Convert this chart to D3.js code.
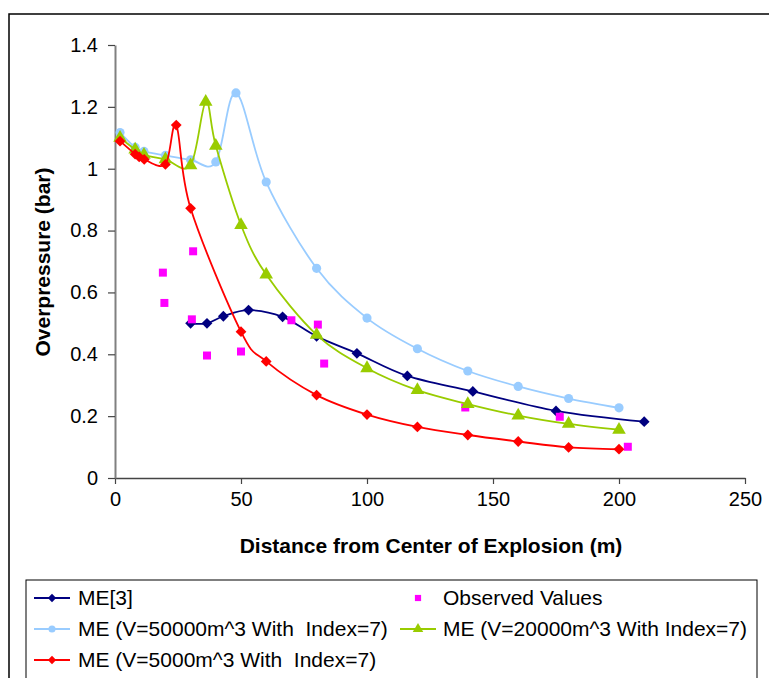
<!DOCTYPE html>
<html>
<head>
<meta charset="utf-8">
<script src="https://cdn.jsdelivr.net/npm/d3@7"></script>
<style>
  html, body { margin: 0; padding: 0; background: #fff; }
  svg { display: block; font-family: "Liberation Sans", Arial, sans-serif; }
  .leg { white-space: pre; }
</style>
</head>
<body>
<svg id="chart" width="769" height="678"></svg>
<script>
// ---- Data ----
const xTicks = [0, 50, 100, 150, 200, 250];
const yTicks = [0, 0.2, 0.4, 0.6, 0.8, 1, 1.2, 1.4];
const yTickLabels = ["0", "0.2", "0.4", "0.6", "0.8", "1", "1.2", "1.4"];

const me3X = [30, 36.5, 43, 53, 66.5, 80, 96, 116, 142, 175, 210];
const me3Y = [0.50, 0.50, 0.523, 0.543, 0.521, 0.458, 0.403, 0.330, 0.280, 0.217, 0.182];

const obsX = [19, 19.6, 30.5, 31, 36.5, 50, 70, 80.5, 83, 139, 176.5, 203.5];
const obsY = [0.664, 0.566, 0.513, 0.733, 0.396, 0.409, 0.510, 0.496, 0.370, 0.228, 0.198, 0.101];

const v50X = [2, 8, 11.5, 20, 30, 40, 48, 60, 80, 100, 120, 140, 160, 180, 200];
const v50Y = [1.117, 1.069, 1.056, 1.043, 1.029, 1.022, 1.245, 0.957, 0.678, 0.517, 0.418, 0.346, 0.296, 0.257, 0.227];

const v20X = [2, 8, 11.5, 20, 30, 36, 40, 50, 60, 80, 100, 120, 140, 160, 180, 200];
const v20Y = [1.100, 1.062, 1.045, 1.030, 1.011, 1.216, 1.074, 0.818, 0.658, 0.463, 0.355, 0.284, 0.239, 0.202, 0.175, 0.156];

const v5X = [2, 8, 9.6, 11.6, 20, 24.3, 30, 50, 60, 80, 100, 120, 140, 160, 180, 200];
const v5Y = [1.089, 1.047, 1.038, 1.030, 1.014, 1.141, 0.872, 0.473, 0.377, 0.268, 0.205, 0.165, 0.139, 0.118, 0.099, 0.093];

const seriesNames = ["ME[3]", "Observed Values", "ME (V=50000m^3 With  Index=7)", "ME (V=20000m^3 With Index=7)", "ME (V=5000m^3 With  Index=7)"];

// square (45°-rotated) diamond like the spreadsheet marker
const sqDiamond = {
  draw(ctx, size) {
    const r = Math.sqrt(size / 2);
    ctx.moveTo(0, -r); ctx.lineTo(r, 0); ctx.lineTo(0, r); ctx.lineTo(-r, 0); ctx.closePath();
  }
};

// ---- Build series table ----
const zip = (xs, ys) => xs.map((x, i) => ({x: x, y: ys[i]}));
const series = [
  {name: seriesNames[0], pts: zip(me3X, me3Y), color: "#000080", line: true, sym: sqDiamond, size: 58},
  {name: seriesNames[1], pts: zip(obsX, obsY), color: "#FF00FF", line: false, sym: d3.symbolSquare, size: 64},
  {name: seriesNames[2], pts: zip(v50X, v50Y), color: "#99CCFF", line: true, sym: d3.symbolCircle, size: 66},
  {name: seriesNames[3], pts: zip(v20X, v20Y), color: "#99CC00", line: true, sym: d3.symbolTriangle, size: 80},
  {name: seriesNames[4], pts: zip(v5X, v5Y), color: "#FF0000", line: true, sym: sqDiamond, size: 58}
];

const svg = d3.select("#chart");

// outer chart border
svg.append("rect").attr("x", 9).attr("y", 14).attr("width", 800).attr("height", 700)
  .attr("fill", "none").attr("stroke", "#000").attr("stroke-width", 1.5);

const x = d3.scaleLinear().domain([0, 250]).range([115, 745]);
const y = d3.scaleLinear().domain([0, 1.4]).range([478, 45]);

// x axis
const xAxis = svg.append("g").attr("transform", `translate(0,${y(0)})`)
  .call(d3.axisBottom(x).tickValues(xTicks).tickSize(6).tickSizeOuter(0).tickPadding(8));
xAxis.select(".domain").attr("stroke", "#444").attr("stroke-width", 1.5);
xAxis.selectAll(".tick line").attr("stroke", "#444").attr("stroke-width", 1.2);
xAxis.selectAll("text").attr("font-size", 20).attr("fill", "#000")
  .attr("font-family", "Liberation Sans, Arial, sans-serif");

// y axis
const yAxis = svg.append("g").attr("transform", `translate(${x(0)},0)`)
  .call(d3.axisLeft(y).tickValues(yTicks).tickFormat((d, i) => yTickLabels[i]).tickSize(7).tickSizeOuter(0).tickPadding(10));
yAxis.select(".domain").attr("stroke", "#808080").attr("stroke-width", 2);
yAxis.selectAll(".tick line").attr("stroke", "#444").attr("stroke-width", 1.2);
yAxis.selectAll("text").attr("font-size", 20).attr("fill", "#000")
  .attr("font-family", "Liberation Sans, Arial, sans-serif");

// axis titles
svg.append("text").attr("x", 431).attr("y", 553).attr("text-anchor", "middle")
  .attr("font-size", 21).attr("font-weight", "bold").text("Distance from Center of Explosion (m)");
svg.append("text").attr("transform", "translate(50,262) rotate(-90)").attr("text-anchor", "middle")
  .attr("font-size", 21).attr("font-weight", "bold").text("Overpressure (bar)");

// series
const lineGen = d3.line().x(d => x(d.x)).y(d => y(d.y)).curve(d3.curveCardinal.tension(0));
series.forEach(s => {
  const g = svg.append("g");
  if (s.line) {
    g.append("path").attr("d", lineGen(s.pts)).attr("fill", "none")
      .attr("stroke", s.color).attr("stroke-width", 1.8);
  }
  g.selectAll("path.m").data(s.pts).enter().append("path").attr("class", "m")
    .attr("d", d3.symbol().type(s.sym).size(s.size))
    .attr("transform", d => `translate(${x(d.x)},${y(d.y)})`)
    .attr("fill", s.color);
});

// legend
svg.append("rect").attr("x", 26).attr("y", 580).attr("width", 731).attr("height", 120)
  .attr("fill", "#fff").attr("stroke", "#000").attr("stroke-width", 1);
const legPos = [
  {lx: 34, tx: 78, cy: 598},
  {lx: 400, tx: 443, cy: 598},
  {lx: 34, tx: 78, cy: 629},
  {lx: 400, tx: 443, cy: 629},
  {lx: 34, tx: 78, cy: 660}
];
series.forEach((s, i) => {
  const p = legPos[i];
  const g = svg.append("g");
  if (s.line) {
    g.append("line").attr("x1", p.lx).attr("x2", p.lx + 36).attr("y1", p.cy).attr("y2", p.cy)
      .attr("stroke", s.color).attr("stroke-width", 1.8);
  }
  g.append("path").attr("d", d3.symbol().type(s.sym).size(s.size * 0.6))
    .attr("transform", `translate(${p.lx + 18},${p.cy})`).attr("fill", s.color);
  g.append("text").attr("class", "leg").attr("x", p.tx).attr("y", p.cy + 7)
    .attr("font-size", 21).text(s.name);
});
</script>
</body>
</html>
